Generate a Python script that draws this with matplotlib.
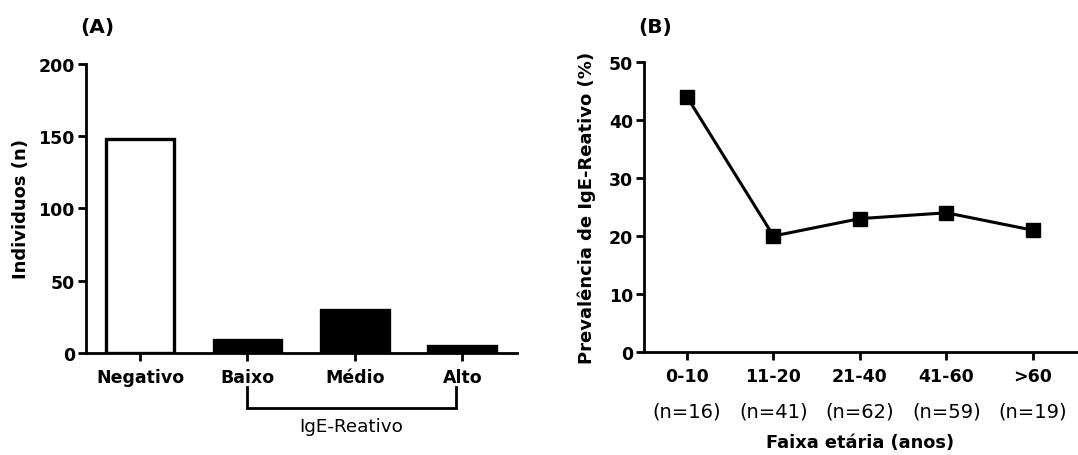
import matplotlib.pyplot as plt
import matplotlib.transforms as mtransforms

plt.rcParams['font.family'] = ['DejaVu Sans']

# Panel A data
grupos = ["Negativo", "Baixo", "Médio", "Alto"]
individuos = [148, 9, 30, 5]
cores = ["white", "black", "black", "black"]

# Panel B data
faixas = ["0-10", "11-20", "21-40", "41-60", ">60"]
n_faixa = [16, 41, 62, 59, 19]
prevalencia = [44, 20, 23, 24, 21]

LW = 2.0
FS = 12.5

fig = plt.figure(figsize=(10.78, 4.56), dpi=100)
ax1 = fig.add_axes([0.0798, 0.2237, 0.3998, 0.6338])
ax2 = fig.add_axes([0.5974, 0.2259, 0.4017, 0.6359])


def style(ax):
    for s in ["top", "right"]:
        ax.spines[s].set_visible(False)
    for s in ["left", "bottom"]:
        ax.spines[s].set_linewidth(LW)
    ax.tick_params(width=LW, length=6, labelsize=FS)
    ax.tick_params(axis="y", pad=2)
    ax.tick_params(axis="x", pad=5)
    for lab in ax.get_yticklabels() + ax.get_xticklabels():
        lab.set_fontweight("bold")


# --- (A) ---
xa = range(len(grupos))
ax1.bar(xa, individuos, width=0.63, color=cores, edgecolor="black", linewidth=2.4)
ax1.set_xlim(-0.503, 3.51)
ax1.set_ylim(0, 200)
ax1.set_yticks([0, 50, 100, 150, 200])
ax1.set_xticks(list(xa))
ax1.set_xticklabels(grupos)
ax1.set_ylabel("Individuos (n)", fontsize=13, fontweight="bold")
ax1.yaxis.set_label_coords(-0.13, 0.5)
style(ax1)

tr = mtransforms.blended_transform_factory(ax1.transData, ax1.transAxes)
ax1.plot([1, 1, 2.94, 2.94], [-0.118, -0.19, -0.19, -0.118], color="black", lw=LW,
         transform=tr, clip_on=False, solid_joinstyle="miter")
ax1.text(1.97, -0.253, "IgE-Reativo", transform=tr, ha="center", va="center", fontsize=13.2)
ax1.text(-0.014, 1.128, "(A)", transform=ax1.transAxes, fontsize=14.5, fontweight="bold",
         ha="left", va="center")

# --- (B) ---
xb = range(len(faixas))
ax2.plot(xb, prevalencia, color="black", lw=2.2, marker="s", markersize=9.4)
ax2.set_xlim(-0.497, 4.51)
ax2.set_ylim(0, 50)
ax2.set_yticks([0, 10, 20, 30, 40, 50])
ax2.set_xticks(list(xb))
ax2.set_xticklabels(faixas)
ax2.set_ylabel("Prevalência de IgE-Reativo (%)", fontsize=13, fontweight="bold")
ax2.yaxis.set_label_coords(-0.111, 0.5)
style(ax2)

tr2 = mtransforms.blended_transform_factory(ax2.transData, ax2.transAxes)
for i, n in enumerate(n_faixa):
    ax2.text(i, -0.203, f"(n={n})", transform=tr2, ha="center", va="center", fontsize=14)
ax2.text(0.5, -0.31, "Faixa etária (anos)", transform=ax2.transAxes, ha="center",
         va="center", fontsize=12.8, fontweight="bold")
ax2.text(-0.014, 1.121, "(B)", transform=ax2.transAxes, fontsize=14.5, fontweight="bold",
         ha="left", va="center")

fig.savefig("out.png", dpi=100)
